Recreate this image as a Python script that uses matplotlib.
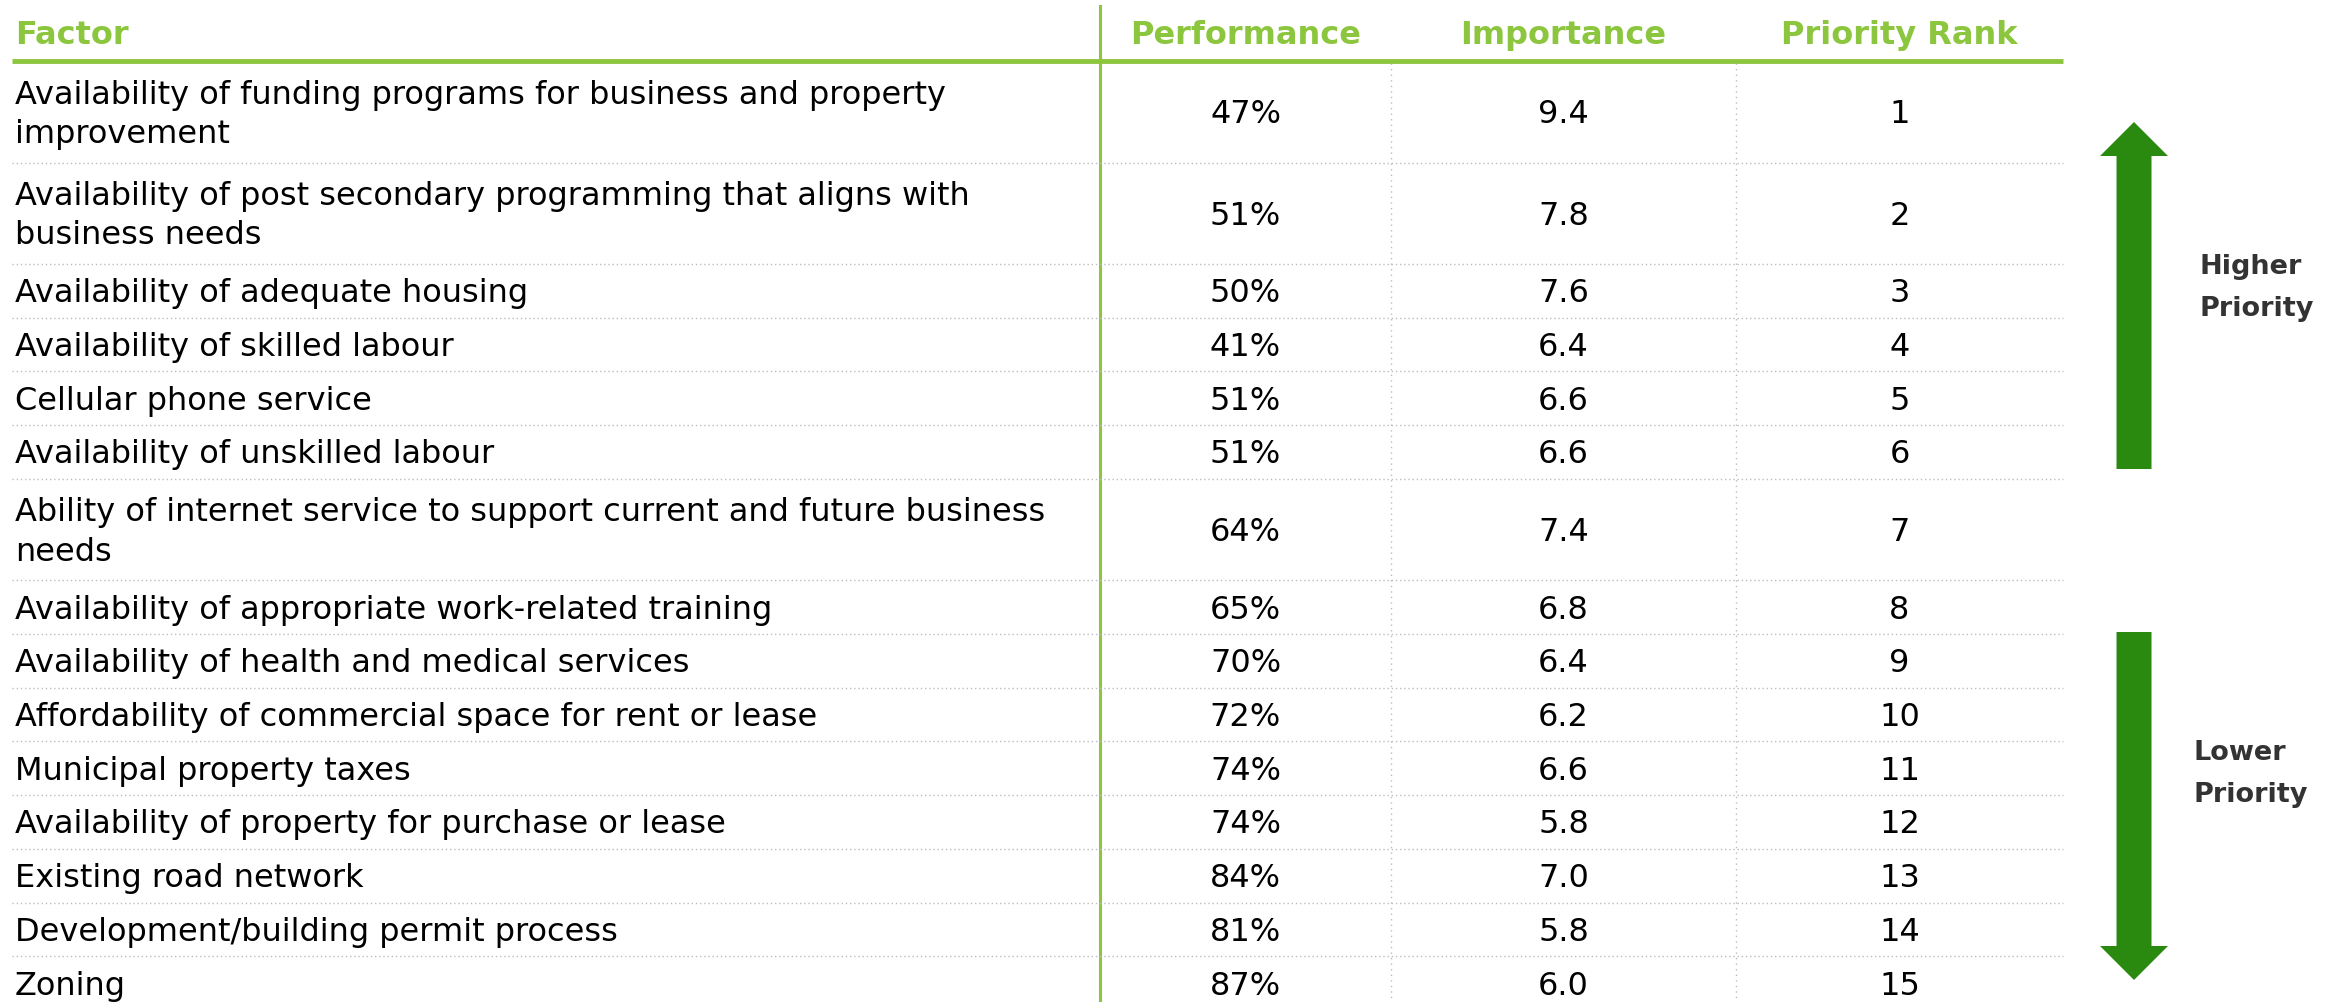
import matplotlib.pyplot as plt
from matplotlib.patches import FancyArrow

# table content
factors = [
    "Availability of funding programs for business and property\nimprovement",
    "Availability of post secondary programming that aligns with\nbusiness needs",
    "Availability of adequate housing",
    "Availability of skilled labour",
    "Cellular phone service",
    "Availability of unskilled labour",
    "Ability of internet service to support current and future business\nneeds",
    "Availability of appropriate work-related training",
    "Availability of health and medical services",
    "Affordability of commercial space for rent or lease",
    "Municipal property taxes",
    "Availability of property for purchase or lease",
    "Existing road network",
    "Development/building permit process",
    "Zoning",
]
performance = [47, 51, 50, 41, 51, 51, 64, 65, 70, 72, 74, 74, 84, 81, 87]
importance = [9.4, 7.8, 7.6, 6.4, 6.6, 6.6, 7.4, 6.8, 6.4, 6.2, 6.6, 5.8, 7.0, 5.8, 6.0]
ranks = list(range(1, 16))
headers = ["Factor", "Performance", "Importance", "Priority Rank"]

GREEN = "#8cc63f"
ARROW = "#2a8a10"
GRID = "#bdbdbd"

W, H = 2339, 1002
fig = plt.figure(figsize=(W / 100, H / 100), dpi=100)
ax = fig.add_axes([0, 0, 1, 1])
ax.set_xlim(0, W)
ax.set_ylim(H, 0)
ax.axis("off")

# column layout (pixels)
left, col1, col2, col3, right = 12, 1100, 1391, 1736, 2063
centers = [(col1 + col2) / 2, (col2 + col3) / 2, (col3 + right) / 2]
header_y = 61
FS = 23

# header
ax.text(15, 35, headers[0], fontsize=FS, fontweight="bold", color=GREEN,
        ha="left", va="center")
for cx, h in zip(centers, headers[1:]):
    ax.text(cx, 35, h, fontsize=FS, fontweight="bold", color=GREEN,
            ha="center", va="center")
ax.plot([left, right], [header_y, header_y], color=GREEN, lw=3.5,
        solid_capstyle="butt")
ax.plot([col1, col1], [6, H], color=GREEN, lw=2.2)

# rows
y = header_y
for i in range(len(factors)):
    h = 101.5 if "\n" in factors[i] else 53.7
    yc = y + h / 2 + 3
    ax.text(15, yc, factors[i], fontsize=FS, ha="left", va="center",
            linespacing=1.35, color="black")
    ax.text(centers[0], yc, f"{performance[i]}%", fontsize=FS,
            ha="center", va="center")
    ax.text(centers[1], yc, f"{importance[i]:.1f}", fontsize=FS,
            ha="center", va="center")
    ax.text(centers[2], yc, str(ranks[i]), fontsize=FS,
            ha="center", va="center")
    y += h
    if y < H:
        ax.plot([left, right], [y, y], color=GRID, lw=1, ls=(0, (1, 2)))

# dotted column separators
for x in [col2, col3]:
    ax.plot([x, x], [header_y + 2, H], color=GRID, lw=1, ls=(0, (1, 3)))

# priority arrows
ax.add_patch(FancyArrow(2134, 469, 0, -347, width=35, head_width=68,
                        head_length=34, length_includes_head=True,
                        color=ARROW, lw=0))
ax.add_patch(FancyArrow(2134, 632, 0, 348, width=35, head_width=68,
                        head_length=34, length_includes_head=True,
                        color=ARROW, lw=0))
ax.text(2200, 288, "Higher\nPriority", fontsize=19.5, fontweight="bold",
        color="#333333", ha="left", va="center", linespacing=1.8)
ax.text(2194, 774, "Lower\nPriority", fontsize=19.5, fontweight="bold",
        color="#333333", ha="left", va="center", linespacing=1.8)

fig.savefig("out.png", dpi=100)
